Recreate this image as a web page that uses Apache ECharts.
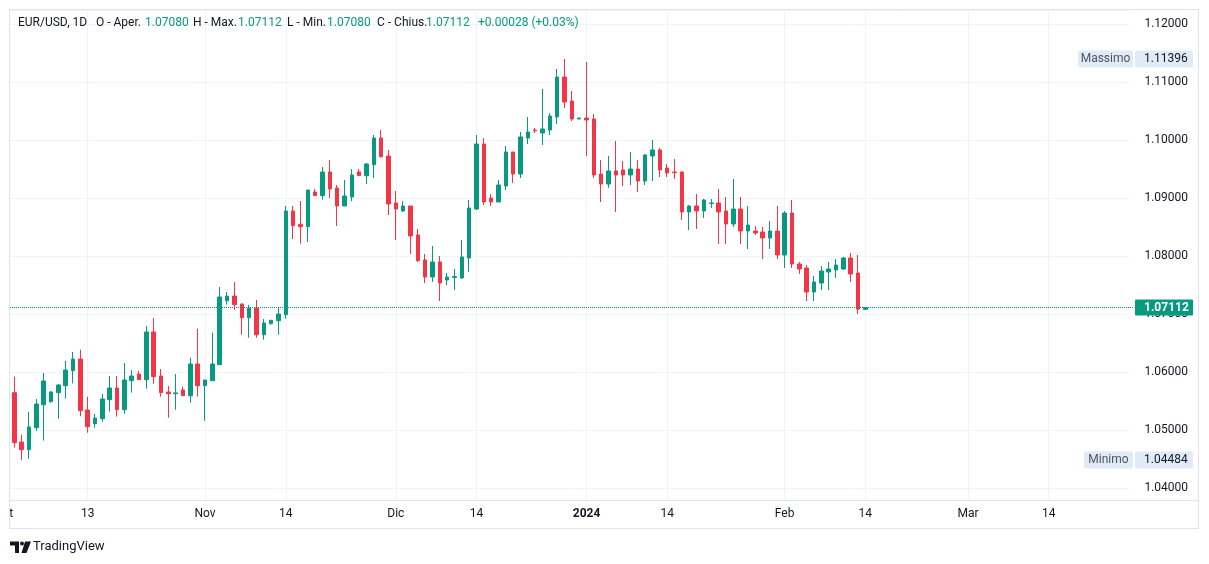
<!DOCTYPE html>
<html><head><meta charset="utf-8">
<script src="https://cdn.jsdelivr.net/npm/echarts@6/dist/echarts.min.js"></script>
<style>html,body{margin:0;padding:0;background:#fff}#c{width:1209px;height:564px}</style>
</head><body><div id="c"></div>
<script>
// Trading sessions (Sun-Fri daily bars), Oct 2023 - Mar 2024
const dates = [
'2023-10-01','2023-10-02','2023-10-03','2023-10-04','2023-10-05','2023-10-06',
'2023-10-08','2023-10-09','2023-10-10','2023-10-11','2023-10-12','2023-10-13',
'2023-10-15','2023-10-16','2023-10-17','2023-10-18','2023-10-19','2023-10-20',
'2023-10-22','2023-10-23','2023-10-24','2023-10-25','2023-10-26','2023-10-27',
'2023-10-29','2023-10-30','2023-10-31','2023-11-01','2023-11-02','2023-11-03',
'2023-11-05','2023-11-06','2023-11-07','2023-11-08','2023-11-09','2023-11-10',
'2023-11-12','2023-11-13','2023-11-14','2023-11-15','2023-11-16','2023-11-17',
'2023-11-19','2023-11-20','2023-11-21','2023-11-22','2023-11-23','2023-11-24',
'2023-11-26','2023-11-27','2023-11-28','2023-11-29','2023-11-30','2023-12-01',
'2023-12-03','2023-12-04','2023-12-05','2023-12-06','2023-12-07','2023-12-08',
'2023-12-10','2023-12-11','2023-12-12','2023-12-13','2023-12-14','2023-12-15',
'2023-12-17','2023-12-18','2023-12-19','2023-12-20','2023-12-21','2023-12-22',
'2023-12-24','2023-12-25','2023-12-26','2023-12-27','2023-12-28','2023-12-29',
'2023-12-31','2024-01-01','2024-01-02','2024-01-03','2024-01-04','2024-01-05',
'2024-01-07','2024-01-08','2024-01-09','2024-01-10','2024-01-11','2024-01-12',
'2024-01-14','2024-01-15','2024-01-16','2024-01-17','2024-01-18','2024-01-19',
'2024-01-21','2024-01-22','2024-01-23','2024-01-24','2024-01-25','2024-01-26',
'2024-01-28','2024-01-29','2024-01-30','2024-01-31','2024-02-01','2024-02-02',
'2024-02-04','2024-02-05','2024-02-06','2024-02-07','2024-02-08','2024-02-09',
'2024-02-11','2024-02-12','2024-02-13','2024-02-14','2024-02-15','2024-02-16',
'2024-02-18','2024-02-19','2024-02-20','2024-02-21','2024-02-22','2024-02-23',
'2024-02-25','2024-02-26','2024-02-27','2024-02-28','2024-02-29','2024-03-01',
'2024-03-03','2024-03-04','2024-03-05','2024-03-06','2024-03-07','2024-03-08',
'2024-03-10','2024-03-11','2024-03-12','2024-03-13','2024-03-14','2024-03-15',
'2024-03-17','2024-03-18','2024-03-19','2024-03-20','2024-03-21','2024-03-22',
'2024-03-24','2024-03-25','2024-03-26','2024-03-27'];
const firstBarDate = '2023-10-02';

const tickDates = ['2023-10-01','2023-10-13','2023-11-01','2023-11-14','2023-12-01','2023-12-14','2024-01-01','2024-01-14','2024-02-01','2024-02-14','2024-03-01','2024-03-14'];
const tickTexts = ['Ott','13','Nov','14','Dic','14','2024','14','Feb','14','Mar','14'];
const yearTicks = ['2024'];

const open = [1.05643,1.04793,1.04660,1.05040,1.05436,1.05488,1.05643,1.05764,1.06022,1.06224,
1.05345,1.05109,1.05195,1.05522,1.05724,1.05350,1.05850,1.05966,1.05867,1.06690,
1.05931,1.05655,1.05626,1.05690,1.05591,1.06138,1.05764,1.05850,1.06126,1.07229,
1.07310,1.07172,1.06936,1.07103,1.06643,1.06833,1.06884,1.06988,1.08776,1.08547,
1.08505,1.09103,1.09040,1.09448,1.09172,1.08862,1.09017,1.09450,1.09384,1.09574,
1.10034,1.09724,1.08914,1.08776,1.08862,1.08362,1.07931,1.07638,1.07897,1.07586,
1.07630,1.07621,1.07966,1.08810,1.09931,1.09000,1.08931,1.09207,1.09793,1.09414,
1.10034,1.10172,1.10121,1.10172,1.10397,1.11086,1.10672,1.10362,1.10379,1.10362,
1.09414,1.09241,1.09466,1.09483,1.09397,1.09500,1.09293,1.09724,1.09828,1.09517,
1.09448,1.09448,1.08759,1.08862,1.08776,1.08905,1.08914,1.08776,1.08552,1.08810,
1.08431,1.08431,1.08414,1.08310,1.08431,1.08017,1.08741,1.07862,1.07793,1.07379,
1.07534,1.07724,1.07759,1.07776,1.07966,1.07707,1.07080];
const high = [1.05919,1.04919,1.05310,1.05534,1.05983,1.05672,1.05793,1.06190,1.06345,1.06384,
1.05574,1.05276,1.05621,1.05931,1.05931,1.06155,1.06034,1.06017,1.06793,1.06931,
1.06052,1.05759,1.05966,1.05747,1.06247,1.06747,1.05862,1.06678,1.07466,1.07379,
1.07552,1.07184,1.07155,1.07241,1.06914,1.06897,1.07103,1.08862,1.08862,1.08948,
1.09138,1.09155,1.09534,1.09655,1.09224,1.09310,1.09500,1.09500,1.09603,1.10086,
1.10172,1.09828,1.09121,1.08948,1.08862,1.08466,1.08034,1.08172,1.08000,1.07707,
1.07776,1.08276,1.08966,1.10086,1.10034,1.09069,1.09310,1.09897,1.09793,1.10138,
1.10397,1.10207,1.10879,1.10466,1.11224,1.11396,1.10845,1.10379,1.11345,1.10448,
1.09655,1.09724,1.09983,1.09638,1.09793,1.09655,1.09759,1.10000,1.09862,1.09586,
1.09672,1.09466,1.08879,1.09069,1.08983,1.08983,1.09155,1.09017,1.09328,1.09017,
1.08862,1.08517,1.08500,1.08603,1.08862,1.08776,1.08966,1.07897,1.07845,1.07655,
1.07828,1.07897,1.07948,1.07983,1.08052,1.08017,1.07112];
const low = [1.04695,1.04484,1.04505,1.04988,1.04816,1.05471,1.05195,1.05540,1.05805,1.05236,
1.04953,1.05040,1.05143,1.05316,1.05229,1.05281,1.05643,1.05867,1.05712,1.05798,
1.05574,1.05212,1.05350,1.05591,1.05471,1.05574,1.05160,1.05850,1.06126,1.07160,
1.07074,1.06643,1.06591,1.06591,1.06557,1.06816,1.06643,1.06919,1.08293,1.08212,
1.08241,1.09040,1.08971,1.09000,1.08517,1.08862,1.08948,1.09385,1.09241,1.09345,
1.09700,1.08707,1.08276,1.08759,1.08034,1.07897,1.07534,1.07552,1.07224,1.07500,
1.07414,1.07603,1.07724,1.08793,1.08879,1.08862,1.08931,1.09138,1.09259,1.09345,
1.09931,1.10121,1.09914,1.10086,1.10276,1.10552,1.10328,1.10362,1.09724,1.09345,
1.08931,1.09172,1.08759,1.09207,1.09224,1.09103,1.09224,1.09293,1.09362,1.09362,
1.09328,1.08621,1.08448,1.08466,1.08655,1.08828,1.08207,1.08207,1.08500,1.08207,
1.08121,1.08362,1.07948,1.08121,1.07948,1.07793,1.07793,1.07690,1.07224,1.07224,
1.07414,1.07414,1.07621,1.07759,1.07552,1.07000,1.07080];
const close = [1.04781,1.04660,1.05052,1.05448,1.05845,1.05655,1.05776,1.06034,1.06224,1.05333,
1.05057,1.05207,1.05534,1.05724,1.05350,1.05862,1.05931,1.05867,1.06690,1.05919,
1.05643,1.05626,1.05640,1.05591,1.06138,1.05764,1.05862,1.06138,1.07293,1.07310,
1.07160,1.06936,1.07103,1.06643,1.06845,1.06891,1.07000,1.08776,1.08522,1.08505,
1.09138,1.09040,1.09448,1.09155,1.08862,1.09034,1.09397,1.09385,1.09586,1.10034,
1.09712,1.08897,1.08810,1.08862,1.08345,1.07919,1.07638,1.07897,1.07534,1.07638,
1.07645,1.07983,1.08828,1.09931,1.08931,1.08931,1.09224,1.09793,1.09414,1.10052,
1.10138,1.10160,1.10190,1.10414,1.11086,1.10655,1.10362,1.10379,1.10345,1.09397,
1.09241,1.09466,1.09397,1.09397,1.09500,1.09293,1.09741,1.09828,1.09483,1.09431,
1.09436,1.08759,1.08862,1.08776,1.08966,1.08914,1.08759,1.08552,1.08810,1.08431,
1.08534,1.08397,1.08310,1.08431,1.08017,1.08741,1.07862,1.07776,1.07379,1.07552,
1.07741,1.07776,1.07845,1.07966,1.07690,1.07084,1.07112];

const FONT = 'Roboto, "Liberation Sans", sans-serif';
const UP = '#089981', DOWN = '#F23645', GRID = '#f0f3fa', BORDER = '#e0e3eb', TXT = '#131722';

const start = dates.indexOf(firstBarDate);
const candles = dates.map((d, i) => {
  const k = i - start;
  return (k >= 0 && k < open.length) ? [open[k], close[k], low[k], high[k]] : '-';
});
const tickIdx = tickDates.map(d => dates.indexOf(d));
const labelOf = {};
tickDates.forEach((d, j) => { labelOf[d] = tickTexts[j]; });
const n = open.length;
const lastClose = close[n - 1], prevClose = close[n - 2];
const chg = lastClose - prevClose;
const fmt = v => v.toFixed(5);
const sgn = v => (v >= 0 ? '+' : '');
const hi = Math.max(...high), lo = Math.min(...low);

const chart = echarts.init(document.getElementById('c'), null, {renderer: 'canvas'});
chart.setOption({
  animation: false,
  backgroundColor: '#ffffff',
  grid: {left: 7, right: 79.6, top: 10, bottom: 64, containLabel: false, outerBoundsMode: 'none'},
  xAxis: {
    type: 'category', data: dates, boundaryGap: false,
    axisLine: {show: false}, axisTick: {show: false},
    axisLabel: {
      interval: (i) => tickIdx.includes(i),
      formatter: (v, i) => {
        const t = labelOf[v] || '';
        if (yearTicks.includes(t)) return '{b|' + t + '}';
        if (i === 0) return '{o|' + t + '}';
        return t;
      },
      color: TXT, fontSize: 12, fontFamily: FONT, margin: 8,
      rich: {
        b: {fontWeight: 'bold', fontSize: 12, color: TXT, fontFamily: FONT},
        o: {fontSize: 12, color: TXT, fontFamily: FONT, padding: [0, 4, 0, 0]}
      }
    },
    splitLine: {show: true, interval: (i) => tickIdx.includes(i), lineStyle: {color: GRID, width: 1}}
  },
  yAxis: {
    type: 'value', position: 'right', scale: true, min: 1.037931, max: 1.122414, splitNumber: 8,
    axisLine: {show: false}, axisTick: {show: false},
    axisLabel: {color: TXT, fontSize: 12, fontFamily: FONT, margin: 15, formatter: v => v.toFixed(5), showMinLabel: false, showMaxLabel: false},
    splitLine: {lineStyle: {color: GRID, width: 1}}
  },
  series: [{
    type: 'candlestick', data: candles, barWidth: 4,
    itemStyle: {color: UP, color0: DOWN, borderColor: UP, borderColor0: DOWN, borderWidth: 1}
  }]
});

const yHi = chart.convertToPixel({yAxisIndex: 0}, hi);
const yLo = chart.convertToPixel({yAxisIndex: 0}, lo);
const yLast = chart.convertToPixel({yAxisIndex: 0}, lastClose);
const yLine = Math.round(yLast - 0.5) + 0.5;

function txt(text, x, y, color, opts) {
  return {type: 'text', z: 110, style: Object.assign({
    text: text, x: x, y: y, fill: color, font: '12px ' + FONT, align: 'left', verticalAlign: 'middle'
  }, opts || {})};
}
function box(x, y, w, h, fill) {
  return {type: 'rect', z: 105, shape: {x: x, y: y, width: w, height: h, r: 2}, style: {fill: fill}};
}

const headY = 23;
const g = [
  {type: 'rect', z: 100, shape: {x: 0, y: 0, width: 9.5, height: 564}, style: {fill: '#ffffff'}},
  {type: 'rect', z: 101, shape: {x: 9.5, y: 9.5, width: 1189, height: 519}, style: {fill: null, stroke: BORDER, lineWidth: 1}},
  {type: 'line', z: 101, shape: {x1: 10, y1: 500.5, x2: 1198, y2: 500.5}, style: {stroke: BORDER, lineWidth: 1}},
  {type: 'line', z: 50, silent: true, shape: {x1: 10, y1: yLine, x2: 1134, y2: yLine}, style: {stroke: UP, lineWidth: 1, lineDash: [1, 1]}},
  txt('EUR/USD, 1D', 18, headY, TXT),
  txt('O - Aper.', 96, headY, TXT), txt(fmt(open[n - 1]), 145, headY, UP),
  txt('H - Max.', 193, headY, TXT), txt(fmt(high[n - 1]), 238, headY, UP),
  txt('L - Min.', 287, headY, TXT), txt(fmt(low[n - 1]), 327, headY, UP),
  txt('C - Chius.', 377, headY, TXT), txt(fmt(close[n - 1]), 426, headY, UP),
  txt(sgn(chg) + chg.toFixed(5) + ' (' + sgn(chg) + (chg / prevClose * 100).toFixed(2) + '%)', 478, headY, UP),
  box(1078, yHi - 8.5, 55, 17, '#e1ebf8'), txt('Massimo', 1105.5, yHi, '#50535e', {align: 'center'}),
  box(1135, yHi - 8.5, 58, 17, '#e1ebf8'), txt(fmt(hi), 1144, yHi, TXT),
  box(1084, yLo - 8.5, 49, 17, '#e1ebf8'), txt('Minimo', 1108.5, yLo, '#50535e', {align: 'center'}),
  box(1135, yLo - 8.5, 58, 17, '#e1ebf8'), txt(fmt(lo), 1144, yLo, TXT),
  {type: 'rect', z: 105, shape: {x: 1135, y: yLast - 8, width: 58, height: 16, r: 1}, style: {fill: UP}},
  txt(fmt(lastClose), 1144, yLast, '#ffffff', {font: 'bold 12px ' + FONT}),
  {type: 'polygon', z: 110, shape: {points: [[10,541.5],[19,541.5],[19,553],[15,553],[15,545.5],[10,545.5]]}, style: {fill: TXT}},
  {type: 'circle', z: 110, shape: {cx: 22, cy: 543.5, r: 2}, style: {fill: TXT}},
  {type: 'polygon', z: 110, shape: {points: [[25,541.5],[31,541.5],[26.5,553],[21.5,553]]}, style: {fill: TXT}},
  txt('TradingView', 33, 547, TXT, {font: '13px ' + FONT})
];
chart.setOption({graphic: g});
</script>
</body></html>
